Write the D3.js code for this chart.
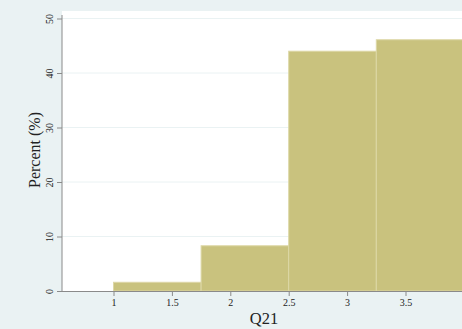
<!DOCTYPE html>
<html>
<head>
<meta charset="utf-8">
<script src="https://cdn.jsdelivr.net/npm/d3@7"></script>
<style>
  html, body { margin: 0; padding: 0; background: #eaf2f3; }
  svg { display: block; }
  text { font-family: "Liberation Serif", "Times New Roman", serif; fill: #222; }
</style>
</head>
<body>
<svg id="chart" width="462" height="329"></svg>
<script>
// Histogram of Q21: bin edges and percent per bin
const binStarts = [1, 1.75, 2.5, 3.25];
const binWidth = 0.75;
const percents = [1.6, 8.3, 44.0, 46.1];
const xTicks = [1, 1.5, 2, 2.5, 3, 3.5];
const yTicks = [0, 10, 20, 30, 40, 50];

const svg = d3.select("#chart");
const W = 462, H = 329;
const plotLeft = 62, plotTop = 11, plotBottom = 291;

const x = d3.scaleLinear().domain([1, 3.5]).range([113.5, 405.5]);
const y = d3.scaleLinear().domain([0, 50]).range([plotBottom, 18.5]);

// plot region
svg.append("rect")
  .attr("x", plotLeft).attr("y", plotTop)
  .attr("width", W - plotLeft).attr("height", plotBottom - plotTop)
  .attr("fill", "#ffffff");

// horizontal grid lines
svg.append("g").selectAll("line")
  .data(yTicks.filter(d => d > 0))
  .join("line")
  .attr("x1", plotLeft).attr("x2", W)
  .attr("y1", d => y(d)).attr("y2", d => y(d))
  .attr("stroke", "#eaf2f3").attr("stroke-width", 1);

// bars
svg.append("g").selectAll("rect")
  .data(binStarts.map((s, i) => ({ s, v: percents[i] })))
  .join("rect")
  .attr("x", d => x(d.s))
  .attr("width", d => x(d.s + binWidth) - x(d.s))
  .attr("y", d => y(d.v))
  .attr("height", d => y(0) - y(d.v))
  .attr("fill", "#c9c27e")
  .attr("stroke", "#ddd7a6")
  .attr("stroke-width", 1);

// y axis
const yAxis = svg.append("g")
  .attr("transform", `translate(${plotLeft},0)`)
  .call(d3.axisLeft(y).tickValues(yTicks).tickSize(5).tickPadding(4));
yAxis.select(".domain").attr("stroke", "#8a8a8a").attr("d", `M-0,${y(0)}V${plotTop + 4}`);
yAxis.selectAll(".tick line").attr("stroke", "#8a8a8a");
yAxis.selectAll(".tick text")
  .attr("font-size", 10)
  .attr("text-anchor", "middle")
  .attr("x", null).attr("dy", null)
  .attr("transform", "translate(-9.5,0) rotate(-90)");

// x axis
const xAxis = svg.append("g")
  .attr("transform", `translate(0,${plotBottom})`)
  .call(d3.axisBottom(x).tickValues(xTicks).tickFormat(d3.format("")).tickSize(5).tickPadding(3));
xAxis.select(".domain").attr("stroke", "#8a8a8a").attr("d", `M${plotLeft},0.5H${W}`);
xAxis.selectAll(".tick line").attr("stroke", "#8a8a8a");
xAxis.selectAll(".tick text").attr("font-size", 10);

// axis titles
svg.append("text")
  .attr("transform", "translate(40,150) rotate(-90)")
  .attr("text-anchor", "middle")
  .attr("font-size", 16)
  .text("Percent (%)");

svg.append("text")
  .attr("x", 264).attr("y", 324)
  .attr("text-anchor", "middle")
  .attr("font-size", 16.5)
  .text("Q21");
</script>
</body>
</html>
